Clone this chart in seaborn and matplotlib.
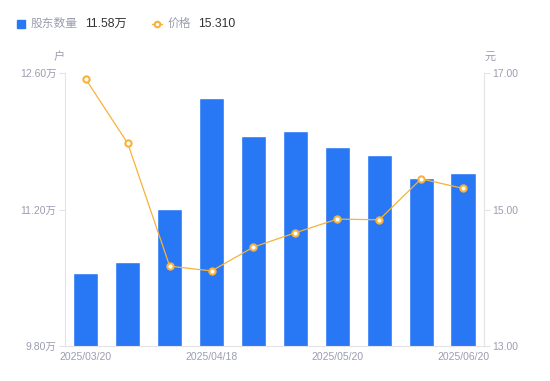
import numpy as np
import matplotlib
matplotlib.use('Agg')
import matplotlib.pyplot as plt
import seaborn as sns
from matplotlib.lines import Line2D
from matplotlib.patches import Rectangle

# data
dates = ['2025/03/20', '2025/03/31', '2025/04/10', '2025/04/18', '2025/04/30',
         '2025/05/09', '2025/05/20', '2025/05/30', '2025/06/10', '2025/06/20']
holders = [10.55, 10.66, 11.21, 12.35, 11.96, 12.01, 11.84, 11.76, 11.52, 11.58]  # 万户
prices = [16.91, 15.97, 14.17, 14.10, 14.45, 14.66, 14.86, 14.85, 15.45, 15.31]
left_ticks = [9.80, 11.20, 12.60]
right_ticks = [13.00, 15.00, 17.00]
shown_dates = ['2025/03/20', '2025/04/18', '2025/05/20', '2025/06/20']

sns.set_style('white')
plt.rcParams['font.family'] = ['Liberation Sans', 'Noto Sans CJK SC', 'DejaVu Sans']

blue = '#2878f5'
orange = '#f7b23b'
grey = '#9b9db0'
axis_col = '#e3e3e8'

fig = plt.figure(figsize=(5.5, 3.81), dpi=100)
ax = fig.add_axes([0.118, 0.092, 0.762, 0.716])

sns.barplot(x=list(range(len(dates))), y=holders, color=blue, width=0.6,
            saturation=1, ax=ax, native_scale=True)
ax.set_xlim(-0.5, len(dates) - 0.5)
ax.set_ylim(left_ticks[0], left_ticks[-1])
ax.set_yticks(left_ticks)
ax.set_yticklabels([f'{v:.2f}万' for v in left_ticks])
idx = [dates.index(d) for d in shown_dates]
ax.set_xticks(idx)
ax.set_xticklabels(shown_dates)
ax.set_xlabel('')
ax.set_ylabel('')

ax2 = ax.twinx()
sns.lineplot(x=list(range(len(dates))), y=prices, color=orange, linewidth=0.9,
             marker='o', markersize=4.5, markerfacecolor='white',
             markeredgecolor=orange, markeredgewidth=1.5, ax=ax2)
ax2.set_ylim(right_ticks[0], right_ticks[-1])
ax2.set_yticks(right_ticks)
ax2.set_yticklabels([f'{v:.2f}' for v in right_ticks])
ax2.set_ylabel('')

for a in (ax, ax2):
    for s in a.spines.values():
        s.set_visible(False)
    a.tick_params(colors=grey, labelsize=7.5, length=4, width=0.8, color=axis_col)
    a.grid(False)
ax.spines['left'].set_visible(True)
ax.spines['left'].set_color(axis_col)
ax.spines['bottom'].set_visible(True)
ax.spines['bottom'].set_color(axis_col)
ax2.spines['right'].set_visible(True)
ax2.spines['right'].set_color(axis_col)
ax.tick_params(axis='x', length=0, pad=4)
ax.tick_params(axis='y', pad=2)
ax2.tick_params(axis='y', pad=2)

fig.text(59 / 550, 1 - 57 / 381, '户', color=grey, fontsize=8, ha='center', va='center')
fig.text(490 / 550, 1 - 57 / 381, '元', color=grey, fontsize=8, ha='center', va='center')

# legend drawn by hand
fig.patches.append(Rectangle((17 / 550, 1 - 28 / 381), 8 / 550, 8 / 381,
                             transform=fig.transFigure, color=blue, figure=fig))
fig.text(31 / 550, 1 - 24 / 381, '股东数量', color=grey, fontsize=8.5, va='center')
fig.text(85 / 550, 1 - 24 / 381, f'{holders[-1]:.2f}万', color='#333333', fontsize=8.7, va='center')
fig.lines.append(Line2D([152 / 550, 162 / 550], [1 - 24 / 381, 1 - 24 / 381],
                        transform=fig.transFigure, color=orange, linewidth=1))
fig.lines.append(Line2D([157 / 550], [1 - 24 / 381], transform=fig.transFigure,
                        color=orange, marker='o', markersize=4, markerfacecolor='white',
                        markeredgewidth=1.5, linestyle='none'))
fig.text(168 / 550, 1 - 24 / 381, '价格', color=grey, fontsize=8.5, va='center')
fig.text(198 / 550, 1 - 24 / 381, f'{prices[-1]:.3f}', color='#333333', fontsize=8.7, va='center')

fig.savefig('out.png', dpi=100)
